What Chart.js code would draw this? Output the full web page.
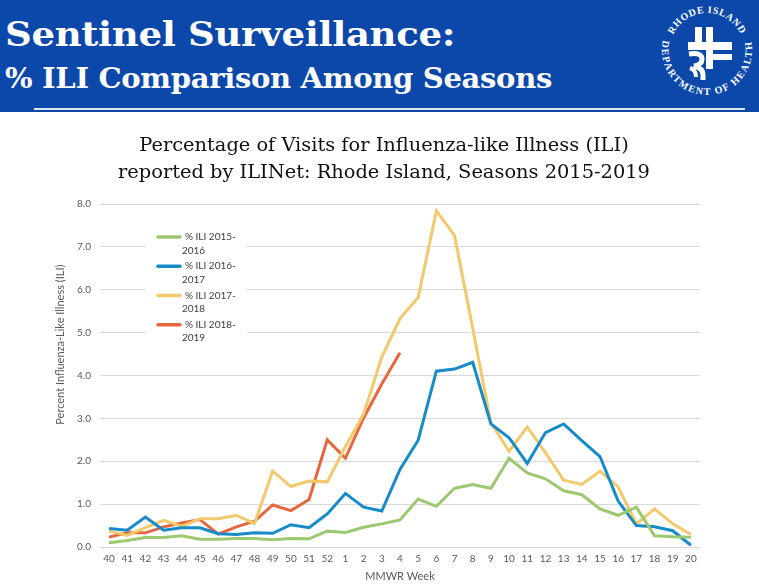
<!DOCTYPE html>
<html>
<head>
<meta charset="utf-8">
<script src="https://cdn.jsdelivr.net/npm/chart.js@4"></script>
<style>
  html, body { margin: 0; padding: 0; background: #fff; }
  body { width: 759px; height: 585px; position: relative; overflow: hidden; }
  .band { position: absolute; left: 0; top: 0; width: 759px; height: 112px; background: #0b48aa; }
  .band .rule { position: absolute; left: 34px; top: 108px; width: 711px; height: 2px; background: #dfe6f3; }
  .h1, .h2 { position: absolute; left: 5px; color: #fff; font-family: "DejaVu Serif", serif; font-weight: bold; white-space: nowrap; line-height: 1; }
  .h1 { top: 18px; font-size: 33px; letter-spacing: -0.3px; }
  .h2 { top: 64px; font-size: 28.5px; letter-spacing: -0.3px; }
  .logo { position: absolute; left: 655px; top: 0; }
  .chart-wrap { position: absolute; left: 0; top: 118px; width: 759px; height: 467px; }
</style>
</head>
<body>
<div class="band">
  <div class="h1" id="h1">Sentinel Surveillance:</div>
  <div class="h2" id="h2">% ILI Comparison Among Seasons</div>
  <div class="rule"></div>
  <svg class="logo" width="104" height="108" viewBox="0 0 104 108">
    <defs>
      <path id="arcTop" d="M 17.23 37.35 A 37 37 0 0 1 86.77 37.35" />
      <path id="arcBot" d="M 8.15 39.88 A 45 45 0 1 0 95.85 39.88" />
    </defs>
    <text font-family="Liberation Serif, serif" font-weight="bold" font-size="10" fill="#fff" letter-spacing="0.6" text-anchor="middle">
      <textPath href="#arcTop" startOffset="50%">RHODE ISLAND</textPath>
    </text>
    <text font-family="Liberation Serif, serif" font-weight="bold" font-size="10" fill="#fff" letter-spacing="1.5" text-anchor="middle">
      <textPath href="#arcBot" startOffset="50%">DEPARTMENT OF HEALTH</textPath>
    </text>
    <g fill="#fff">
      <rect x="40" y="27" width="7" height="15" />
      <rect x="51" y="27" width="7" height="42" />
      <rect x="33" y="42" width="44" height="8" />
      <rect x="58" y="54" width="19" height="6" />
    </g>
    <path d="M 34 54 Q 47 52 47 59 Q 47 65 39 66 Q 48 68 48 75 L 48 80" fill="none" stroke="#fff" stroke-width="5" />
    <path d="M 35 68 Q 41 70 41 77" fill="none" stroke="#fff" stroke-width="4" />
  </svg>
</div>
<div class="chart-wrap"><canvas id="iliChart"></canvas></div>
<script>
// MMWR weeks 40..52 then 1..20
const weeks = ["40", "41", "42", "43", "44", "45", "46", "47", "48", "49", "50", "51", "52",
  "1", "2", "3", "4", "5", "6", "7", "8", "9", "10", "11", "12", "13", "14", "15", "16", "17", "18", "19", "20"];

const ili2015 = [0.10, 0.15, 0.22, 0.22, 0.26, 0.18, 0.18, 0.20, 0.20, 0.17, 0.20, 0.19, 0.37,
  0.34, 0.46, 0.54, 0.63, 1.12, 0.95, 1.37, 1.46, 1.37, 2.07, 1.73, 1.59, 1.31, 1.22, 0.89, 0.74, 0.93, 0.26, 0.24, 0.23];

const ili2016 = [0.43, 0.39, 0.70, 0.39, 0.45, 0.45, 0.31, 0.29, 0.33, 0.32, 0.52, 0.45, 0.77,
  1.25, 0.93, 0.84, 1.81, 2.49, 4.10, 4.15, 4.31, 2.87, 2.55, 1.95, 2.67, 2.87, 2.48, 2.11, 1.07, 0.50, 0.47, 0.38, 0.04];

const ili2017 = [0.37, 0.27, 0.45, 0.62, 0.48, 0.66, 0.66, 0.74, 0.55, 1.77, 1.41, 1.54, 1.52,
  2.34, 3.10, 4.43, 5.33, 5.82, 7.84, 7.27, 5.10, 2.90, 2.23, 2.80, 2.20, 1.56, 1.46, 1.77, 1.40, 0.54, 0.89, 0.54, 0.29];

const ili2018 = [0.23, 0.33, 0.33, 0.47, 0.56, 0.64, 0.30, 0.47, 0.60, 0.98, 0.85, 1.11, 2.50,
  2.07, 3.01, 3.80, 4.53];

const seriesNames = ["% ILI 2015-2016", "% ILI 2016-2017", "% ILI 2017-2018", "% ILI 2018-2019"];
const seriesColors = ["#9cc86f", "#168bc9", "#f2c96b", "#e6673d"];
const yTicks = [0, 1, 2, 3, 4, 5, 6, 7, 8];

const textColor = "#595959";
const gridColor = "#d9d9d9";

// Stretch header lines to the reference widths
function fitWidth(id, target) {
  const el = document.getElementById(id);
  const w = el.getBoundingClientRect().width;
  el.style.transformOrigin = "left top";
  el.style.transform = "scaleX(" + (target / w) + ")";
}
fitWidth("h1", 450);
fitWidth("h2", 547);

// Legend drawn inside plot, with wrapped labels and white backing box
const insideLegend = {
  id: "insideLegend",
  afterDraw(chart) {
    const ctx = chart.ctx;
    const area = chart.chartArea;
    const x0 = area.left + 46;
    const y0 = area.top + 22;
    ctx.save();
    ctx.fillStyle = "#fff";
    ctx.fillRect(x0, y0, 101, 120);
    ctx.font = "10px Lato, sans-serif";
    ctx.fillStyle = "#404040";
    ctx.textBaseline = "middle";
    chart.data.datasets.forEach(function (ds, i) {
      const y = y0 + 11 + i * 29.2;
      ctx.strokeStyle = ds.borderColor;
      ctx.lineWidth = 3.5;
      ctx.lineCap = "round";
      ctx.beginPath();
      ctx.moveTo(x0 + 12, y);
      ctx.lineTo(x0 + 34, y);
      ctx.stroke();
      const parts = ds.label.split("-");
      ctx.fillText(parts[0] + "-", x0 + 39, y);
      ctx.fillText(parts[1], x0 + 36, y + 13.5);
    });

    // y axis title, placed a little above the plot centre as in the original
    ctx.translate(area.left - 40, area.top + (area.bottom - area.top) * 0.41);
    ctx.rotate(-Math.PI / 2);
    ctx.font = "11px Lato, sans-serif";
    ctx.fillStyle = textColor;
    ctx.textAlign = "center";
    ctx.fillText("Percent Influenza-Like Illness (ILI)", 0, 0);
    ctx.restore();
  },
};

const ctx = document.getElementById("iliChart").getContext("2d");
const allSeries = [ili2015, ili2016, ili2017, ili2018];

new Chart(ctx, {
  type: "line",
  data: {
    labels: weeks,
    datasets: allSeries.map(function (values, i) {
      return {
        label: seriesNames[i],
        data: values,
        borderColor: seriesColors[i],
        backgroundColor: seriesColors[i],
        borderWidth: 3,
        pointRadius: 0,
        tension: 0,
        fill: false,
      };
    }),
  },
  options: {
    responsive: true,
    maintainAspectRatio: false,
    animation: false,
    layout: { padding: { left: 68, right: 59, top: 0, bottom: 3 } },
    plugins: {
      legend: { display: false },
      tooltip: { enabled: false },
      title: {
        display: true,
        text: ["Percentage of Visits for Influenza-like Illness (ILI)",
          "reported by ILINet: Rhode Island, Seasons 2015-2019"],
        font: { family: "DejaVu Serif", size: 19.4, weight: "normal", lineHeight: 1.38 },
        color: "#111",
        padding: { top: 15, bottom: 17.5 },
      },
    },
    scales: {
      x: {
        offset: true,
        grid: { display: false, drawTicks: false },
        border: { display: false },
        ticks: { color: textColor, font: { family: "Lato", size: 10 }, maxRotation: 0, autoSkip: false, padding: 6 },
        title: { display: true, text: "MMWR Week", color: textColor, font: { family: "Lato", size: 11, lineHeight: 1 }, padding: { top: 0, bottom: 0 } },
      },
      y: {
        min: 0,
        max: 8,
        afterBuildTicks: function (axis) {
          axis.ticks = yTicks.map(function (v) { return { value: v }; });
        },
        grid: { color: gridColor, lineWidth: 1, drawTicks: false },
        border: { display: false },
        ticks: {
          color: textColor,
          font: { family: "Lato", size: 10 },
          padding: 9,
          callback: function (v) { return Number(v).toFixed(1); },
        },
      },
    },
  },
  plugins: [insideLegend],
});
</script>
</body>
</html>
